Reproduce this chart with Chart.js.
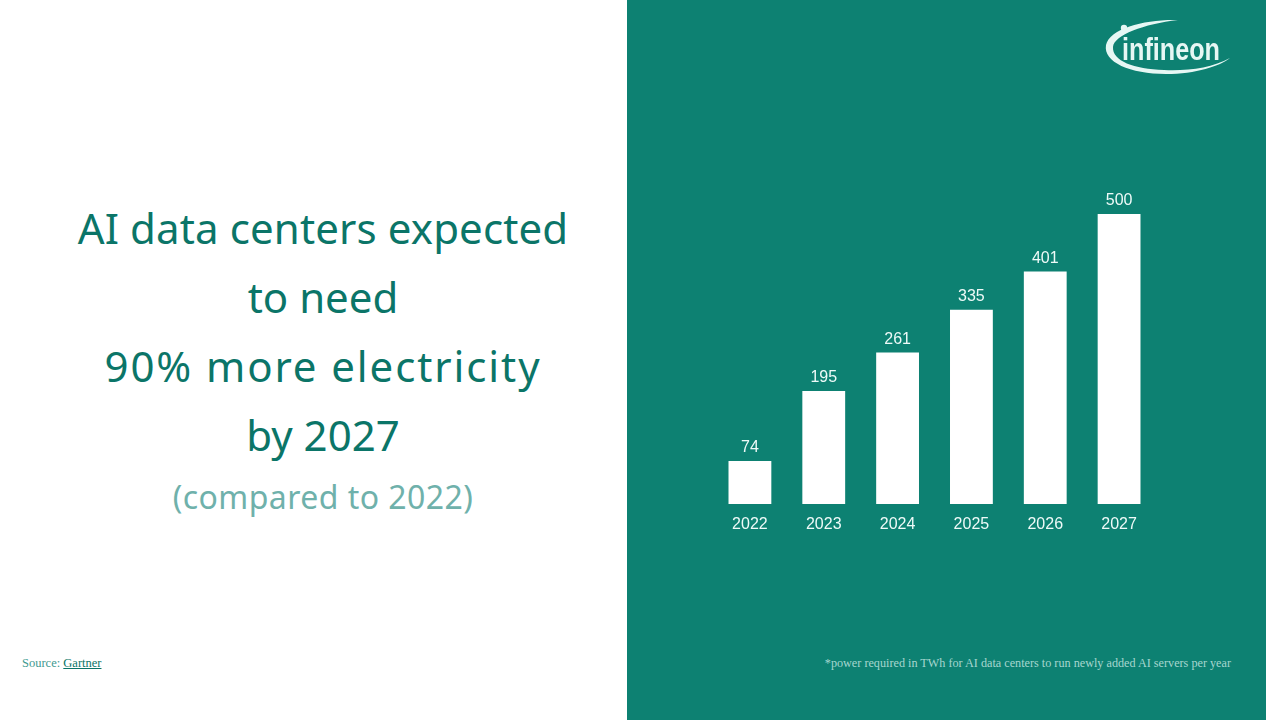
<!DOCTYPE html>
<html><head><meta charset="utf-8">
<style>
html,body{margin:0;padding:0;background:#fff;width:1280px;height:720px;overflow:hidden;font-family:"Noto Sans",sans-serif}
#panel{position:absolute;left:627px;top:0;width:639px;height:720px;background:#0d8172}
#wrap{position:absolute;left:627px;top:0;width:639px;height:720px}
.h{position:absolute;left:0;width:646px;text-align:center;color:#0b7568;font-size:42px;line-height:60px;white-space:nowrap}
.sub{color:#6fb1ab;font-size:32px;letter-spacing:.45px}
#src{position:absolute;left:22px;top:656px;font-size:12.5px;line-height:14px;color:#3f9a90;font-family:"Liberation Serif",serif}
#src u{color:#0b7568}
#note{position:absolute;right:49px;top:656px;font-size:12.2px;line-height:14px;color:#a6d6cf;font-family:"Liberation Serif",serif;white-space:nowrap}
#logo{position:absolute;left:1100px;top:14px}
</style></head><body>
<div id="panel"></div>
<div class="h" style="top:198px;letter-spacing:.13px">AI data centers expected</div>
<div class="h" style="top:267px">to need</div>
<div class="h" style="top:336px;letter-spacing:1.9px">90% more electricity</div>
<div class="h" style="top:405px">by 2027</div>
<div class="h sub" style="top:467px">(compared to 2022)</div>
<div id="src">Source: <u>Gartner</u></div>
<div id="note">*power required in TWh for AI data centers to run newly added AI servers per year</div>
<div id="wrap"><canvas id="c" width="639" height="720"></canvas></div>
<svg id="logo" width="136" height="66" viewBox="0 0 136 66">
<path d="M78 6 C46 5 10 14 6 31 C3 48 30 60 66 60 C96 60 120 52 130 44 C112 54 88 57 64 56 C34 55 12 47 13 33 C14 21 44 10 78 6Z" fill="#e6f7f4"/>
<circle cx="24" cy="14" r="3.2" fill="#e6f7f4"/>
<text x="22" y="46" font-family="Liberation Sans Narrow, Liberation Sans, sans-serif" font-size="31" font-weight="700" fill="#e6f7f4" textLength="98" lengthAdjust="spacingAndGlyphs">infineon</text>
</svg>
<script src="https://cdn.jsdelivr.net/npm/chart.js@4"></script>
<script>
const years = ["2022","2023","2024","2025","2026","2027"];
const power = [74,195,261,335,401,500];
const labelPlugin = {
  id:"valueLabels",
  afterDatasetsDraw(chart){
    const ctx = chart.ctx, meta = chart.getDatasetMeta(0);
    ctx.save();
    ctx.font = "16px 'Liberation Sans'";
    ctx.fillStyle = "#eefaf8";
    ctx.textAlign = "center";
    ctx.textBaseline = "middle";
    meta.data.forEach((bar,i)=>ctx.fillText(String(power[i]), bar.x, bar.y-13));
    ctx.restore();
  }
};
new Chart(document.getElementById("c"),{
  type:"bar",
  data:{labels:years,datasets:[{data:power,backgroundColor:"#ffffff",borderWidth:0,categoryPercentage:1,barPercentage:0.58}]},
  plugins:[labelPlugin],
  options:{
    responsive:false,animation:false,devicePixelRatio:1,
    layout:{padding:{left:86,right:110,top:214,bottom:176}},
    plugins:{legend:{display:false},tooltip:{enabled:false}},
    scales:{
      x:{grid:{display:false},border:{display:false},
         ticks:{color:"#eefaf8",font:{family:"Liberation Sans",size:16},padding:3,maxRotation:0},
         afterFit(s){s.height=40;}},
      y:{display:false,min:0,max:500}
    }
  }
});
</script>
</body></html>
